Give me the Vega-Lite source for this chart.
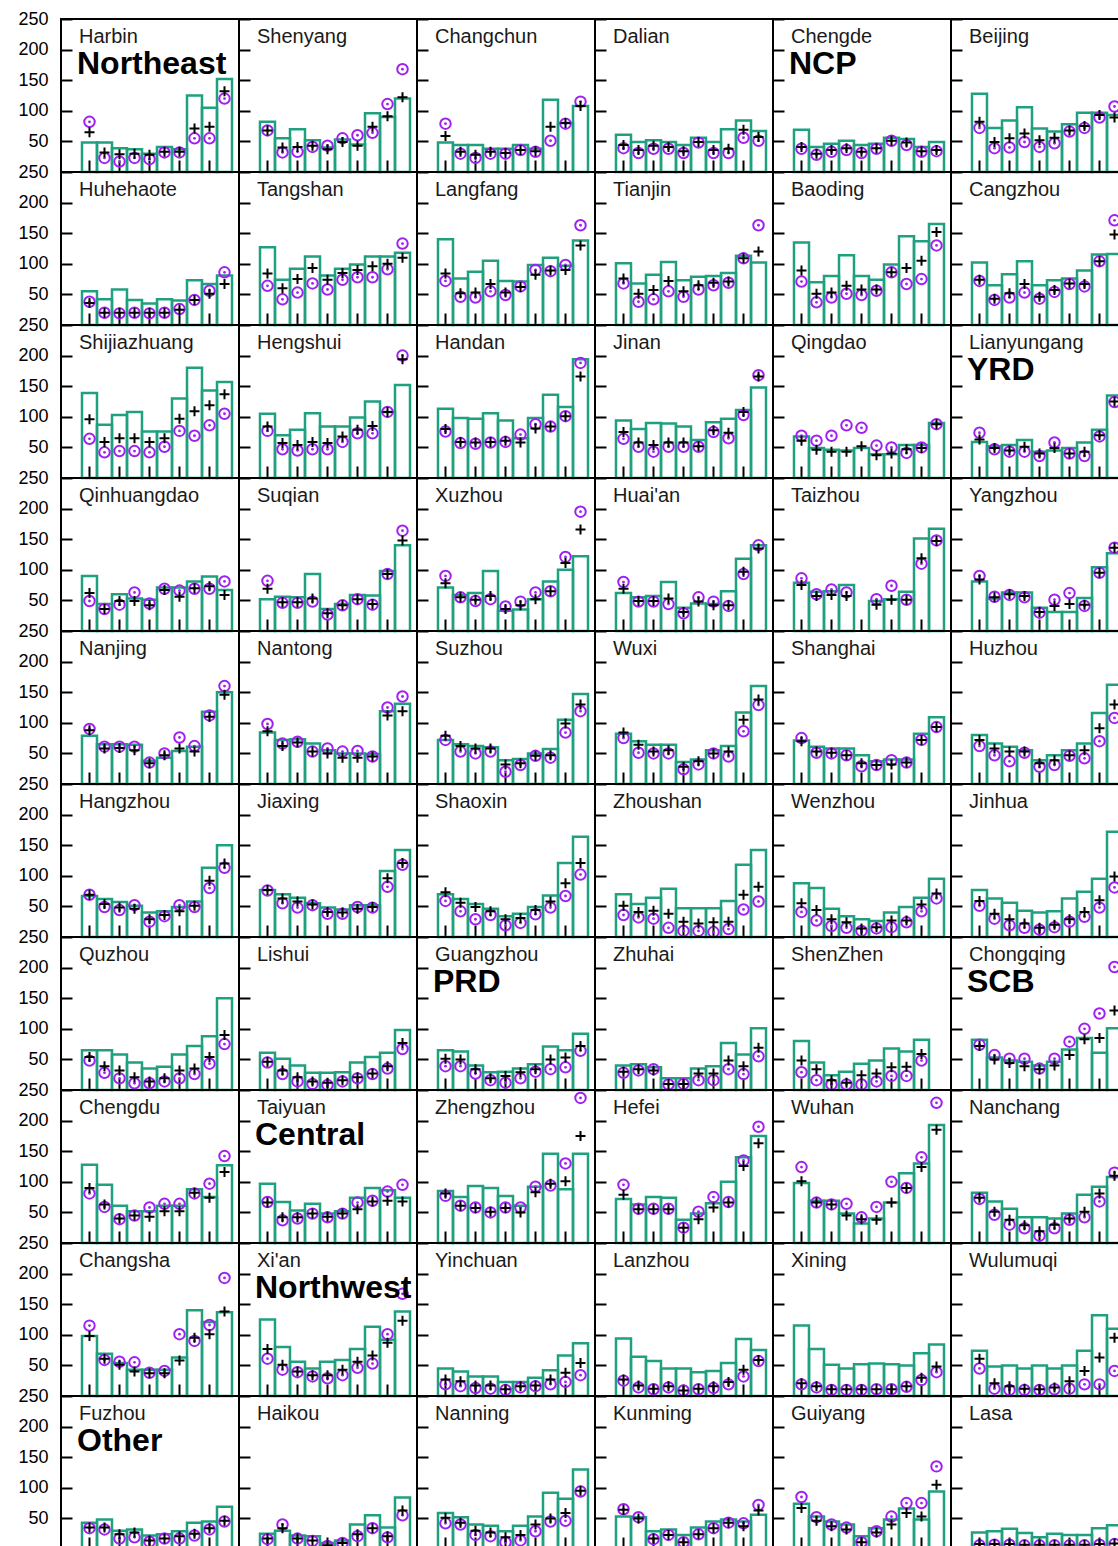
{
"$schema": "https://vega.github.io/schema/vega-lite/v6.json",
"padding": {"left": 17, "top": 10, "right": 0, "bottom": 0},
"background": "white",
"bounds": "flush",
"data": {"values": [
{"city":"Harbin","month":1,"bar":48,"plus":65,"circle":82,"region":"Northeast"},
{"city":"Harbin","month":2,"bar":48,"plus":32,"circle":23},
{"city":"Harbin","month":3,"bar":39,"plus":29,"circle":17},
{"city":"Harbin","month":4,"bar":37,"plus":30,"circle":23},
{"city":"Harbin","month":5,"bar":30,"plus":28,"circle":21},
{"city":"Harbin","month":6,"bar":41,"plus":33,"circle":32},
{"city":"Harbin","month":7,"bar":37,"plus":33,"circle":32},
{"city":"Harbin","month":8,"bar":125,"plus":71,"circle":55},
{"city":"Harbin","month":9,"bar":105,"plus":74,"circle":55},
{"city":"Harbin","month":10,"bar":152,"plus":132,"circle":120},
{"city":"Shenyang","month":1,"bar":82,"plus":68,"circle":68},
{"city":"Shenyang","month":2,"bar":55,"plus":40,"circle":32},
{"city":"Shenyang","month":3,"bar":70,"plus":41,"circle":33},
{"city":"Shenyang","month":4,"bar":52,"plus":43,"circle":41},
{"city":"Shenyang","month":5,"bar":40,"plus":37,"circle":43},
{"city":"Shenyang","month":6,"bar":53,"plus":49,"circle":55},
{"city":"Shenyang","month":7,"bar":45,"plus":43,"circle":60},
{"city":"Shenyang","month":8,"bar":96,"plus":74,"circle":64},
{"city":"Shenyang","month":9,"bar":90,"plus":91,"circle":111},
{"city":"Shenyang","month":10,"bar":120,"plus":122,"circle":168},
{"city":"Changchun","month":1,"bar":48,"plus":59,"circle":79},
{"city":"Changchun","month":2,"bar":44,"plus":33,"circle":30},
{"city":"Changchun","month":3,"bar":44,"plus":28,"circle":23},
{"city":"Changchun","month":4,"bar":38,"plus":33,"circle":30},
{"city":"Changchun","month":5,"bar":38,"plus":31,"circle":30},
{"city":"Changchun","month":6,"bar":44,"plus":36,"circle":36},
{"city":"Changchun","month":7,"bar":38,"plus":34,"circle":33},
{"city":"Changchun","month":8,"bar":118,"plus":74,"circle":51},
{"city":"Changchun","month":9,"bar":80,"plus":80,"circle":79},
{"city":"Changchun","month":10,"bar":108,"plus":108,"circle":115},
{"city":"Dalian","month":1,"bar":61,"plus":44,"circle":39},
{"city":"Dalian","month":2,"bar":49,"plus":36,"circle":31},
{"city":"Dalian","month":3,"bar":52,"plus":43,"circle":38},
{"city":"Dalian","month":4,"bar":49,"plus":41,"circle":38},
{"city":"Dalian","month":5,"bar":44,"plus":34,"circle":31},
{"city":"Dalian","month":6,"bar":56,"plus":49,"circle":48},
{"city":"Dalian","month":7,"bar":49,"plus":36,"circle":31},
{"city":"Dalian","month":8,"bar":70,"plus":38,"circle":31},
{"city":"Dalian","month":9,"bar":84,"plus":69,"circle":56},
{"city":"Dalian","month":10,"bar":67,"plus":57,"circle":51},
{"city":"Chengde","month":1,"bar":69,"plus":41,"circle":38,"region":"NCP"},
{"city":"Chengde","month":2,"bar":41,"plus":30,"circle":28},
{"city":"Chengde","month":3,"bar":46,"plus":36,"circle":33},
{"city":"Chengde","month":4,"bar":51,"plus":39,"circle":36},
{"city":"Chengde","month":5,"bar":44,"plus":33,"circle":31},
{"city":"Chengde","month":6,"bar":46,"plus":39,"circle":38},
{"city":"Chengde","month":7,"bar":56,"plus":51,"circle":51},
{"city":"Chengde","month":8,"bar":54,"plus":48,"circle":44},
{"city":"Chengde","month":9,"bar":41,"plus":34,"circle":33},
{"city":"Chengde","month":10,"bar":49,"plus":36,"circle":34},
{"city":"Beijing","month":1,"bar":128,"plus":82,"circle":72},
{"city":"Beijing","month":2,"bar":72,"plus":49,"circle":39},
{"city":"Beijing","month":3,"bar":84,"plus":55,"circle":40},
{"city":"Beijing","month":4,"bar":106,"plus":63,"circle":49},
{"city":"Beijing","month":5,"bar":71,"plus":52,"circle":41},
{"city":"Beijing","month":6,"bar":66,"plus":56,"circle":47},
{"city":"Beijing","month":7,"bar":78,"plus":68,"circle":66},
{"city":"Beijing","month":8,"bar":97,"plus":75,"circle":72},
{"city":"Beijing","month":9,"bar":97,"plus":93,"circle":89},
{"city":"Beijing","month":10,"bar":93,"plus":89,"circle":107},
{"city":"Huhehaote","month":1,"bar":55,"plus":36,"circle":38},
{"city":"Huhehaote","month":2,"bar":42,"plus":20,"circle":20},
{"city":"Huhehaote","month":3,"bar":58,"plus":20,"circle":19},
{"city":"Huhehaote","month":4,"bar":41,"plus":20,"circle":20},
{"city":"Huhehaote","month":5,"bar":35,"plus":20,"circle":19},
{"city":"Huhehaote","month":6,"bar":42,"plus":20,"circle":20},
{"city":"Huhehaote","month":7,"bar":40,"plus":25,"circle":26},
{"city":"Huhehaote","month":8,"bar":73,"plus":41,"circle":41},
{"city":"Huhehaote","month":9,"bar":67,"plus":51,"circle":56},
{"city":"Huhehaote","month":10,"bar":81,"plus":67,"circle":86},
{"city":"Tangshan","month":1,"bar":127,"plus":84,"circle":64},
{"city":"Tangshan","month":2,"bar":74,"plus":60,"circle":42},
{"city":"Tangshan","month":3,"bar":92,"plus":75,"circle":53},
{"city":"Tangshan","month":4,"bar":112,"plus":93,"circle":68},
{"city":"Tangshan","month":5,"bar":81,"plus":74,"circle":58},
{"city":"Tangshan","month":6,"bar":92,"plus":85,"circle":74},
{"city":"Tangshan","month":7,"bar":99,"plus":90,"circle":78},
{"city":"Tangshan","month":8,"bar":112,"plus":96,"circle":78},
{"city":"Tangshan","month":9,"bar":112,"plus":100,"circle":91},
{"city":"Tangshan","month":10,"bar":118,"plus":110,"circle":133},
{"city":"Langfang","month":1,"bar":140,"plus":84,"circle":72},
{"city":"Langfang","month":2,"bar":76,"plus":52,"circle":46},
{"city":"Langfang","month":3,"bar":87,"plus":53,"circle":45},
{"city":"Langfang","month":4,"bar":105,"plus":67,"circle":55},
{"city":"Langfang","month":5,"bar":72,"plus":53,"circle":49},
{"city":"Langfang","month":6,"bar":71,"plus":62,"circle":63},
{"city":"Langfang","month":7,"bar":98,"plus":82,"circle":90},
{"city":"Langfang","month":8,"bar":110,"plus":89,"circle":88},
{"city":"Langfang","month":9,"bar":97,"plus":90,"circle":98},
{"city":"Langfang","month":10,"bar":138,"plus":130,"circle":163},
{"city":"Tianjin","month":1,"bar":101,"plus":76,"circle":68},
{"city":"Tianjin","month":2,"bar":68,"plus":51,"circle":38},
{"city":"Tianjin","month":3,"bar":82,"plus":57,"circle":42},
{"city":"Tianjin","month":4,"bar":103,"plus":72,"circle":55},
{"city":"Tianjin","month":5,"bar":73,"plus":55,"circle":46},
{"city":"Tianjin","month":6,"bar":79,"plus":65,"circle":58},
{"city":"Tianjin","month":7,"bar":80,"plus":69,"circle":65},
{"city":"Tianjin","month":8,"bar":85,"plus":71,"circle":69},
{"city":"Tianjin","month":9,"bar":113,"plus":109,"circle":109},
{"city":"Tianjin","month":10,"bar":102,"plus":120,"circle":163},
{"city":"Baoding","month":1,"bar":135,"plus":89,"circle":71},
{"city":"Baoding","month":2,"bar":70,"plus":51,"circle":37},
{"city":"Baoding","month":3,"bar":80,"plus":53,"circle":45},
{"city":"Baoding","month":4,"bar":114,"plus":64,"circle":51},
{"city":"Baoding","month":5,"bar":80,"plus":58,"circle":49},
{"city":"Baoding","month":6,"bar":74,"plus":58,"circle":56},
{"city":"Baoding","month":7,"bar":99,"plus":86,"circle":86},
{"city":"Baoding","month":8,"bar":145,"plus":93,"circle":67},
{"city":"Baoding","month":9,"bar":137,"plus":105,"circle":75},
{"city":"Baoding","month":10,"bar":165,"plus":152,"circle":130},
{"city":"Cangzhou","month":1,"bar":102,"plus":74,"circle":72},
{"city":"Cangzhou","month":2,"bar":65,"plus":43,"circle":41},
{"city":"Cangzhou","month":3,"bar":83,"plus":52,"circle":45},
{"city":"Cangzhou","month":4,"bar":104,"plus":67,"circle":53},
{"city":"Cangzhou","month":5,"bar":65,"plus":46,"circle":43},
{"city":"Cangzhou","month":6,"bar":73,"plus":57,"circle":54},
{"city":"Cangzhou","month":7,"bar":76,"plus":68,"circle":67},
{"city":"Cangzhou","month":8,"bar":89,"plus":67,"circle":63},
{"city":"Cangzhou","month":9,"bar":115,"plus":104,"circle":104},
{"city":"Cangzhou","month":10,"bar":116,"plus":148,"circle":171},
{"city":"Shijiazhuang","month":1,"bar":139,"plus":96,"circle":64},
{"city":"Shijiazhuang","month":2,"bar":87,"plus":59,"circle":42},
{"city":"Shijiazhuang","month":3,"bar":103,"plus":65,"circle":44},
{"city":"Shijiazhuang","month":4,"bar":108,"plus":65,"circle":44},
{"city":"Shijiazhuang","month":5,"bar":76,"plus":59,"circle":42},
{"city":"Shijiazhuang","month":6,"bar":76,"plus":65,"circle":51},
{"city":"Shijiazhuang","month":7,"bar":130,"plus":97,"circle":77},
{"city":"Shijiazhuang","month":8,"bar":180,"plus":109,"circle":69},
{"city":"Shijiazhuang","month":9,"bar":143,"plus":119,"circle":86},
{"city":"Shijiazhuang","month":10,"bar":157,"plus":137,"circle":105},
{"city":"Hengshui","month":1,"bar":105,"plus":84,"circle":77},
{"city":"Hengshui","month":2,"bar":70,"plus":57,"circle":47},
{"city":"Hengshui","month":3,"bar":79,"plus":54,"circle":45},
{"city":"Hengshui","month":4,"bar":106,"plus":59,"circle":47},
{"city":"Hengshui","month":5,"bar":84,"plus":57,"circle":47},
{"city":"Hengshui","month":6,"bar":84,"plus":68,"circle":59},
{"city":"Hengshui","month":7,"bar":99,"plus":79,"circle":73},
{"city":"Hengshui","month":8,"bar":125,"plus":85,"circle":73},
{"city":"Hengshui","month":9,"bar":108,"plus":108,"circle":108},
{"city":"Hengshui","month":10,"bar":152,"plus":194,"circle":200},
{"city":"Handan","month":1,"bar":113,"plus":80,"circle":76},
{"city":"Handan","month":2,"bar":98,"plus":59,"circle":57},
{"city":"Handan","month":3,"bar":97,"plus":58,"circle":56},
{"city":"Handan","month":4,"bar":106,"plus":59,"circle":58},
{"city":"Handan","month":5,"bar":94,"plus":61,"circle":59},
{"city":"Handan","month":6,"bar":65,"plus":58,"circle":71},
{"city":"Handan","month":7,"bar":98,"plus":81,"circle":88},
{"city":"Handan","month":8,"bar":136,"plus":84,"circle":84},
{"city":"Handan","month":9,"bar":116,"plus":101,"circle":101},
{"city":"Handan","month":10,"bar":194,"plus":166,"circle":188},
{"city":"Jinan","month":1,"bar":94,"plus":75,"circle":64},
{"city":"Jinan","month":2,"bar":80,"plus":58,"circle":51},
{"city":"Jinan","month":3,"bar":90,"plus":54,"circle":43},
{"city":"Jinan","month":4,"bar":89,"plus":58,"circle":51},
{"city":"Jinan","month":5,"bar":84,"plus":58,"circle":51},
{"city":"Jinan","month":6,"bar":62,"plus":52,"circle":51},
{"city":"Jinan","month":7,"bar":91,"plus":78,"circle":75},
{"city":"Jinan","month":8,"bar":97,"plus":74,"circle":65},
{"city":"Jinan","month":9,"bar":111,"plus":108,"circle":103},
{"city":"Jinan","month":10,"bar":148,"plus":166,"circle":168},
{"city":"Qingdao","month":1,"bar":68,"plus":61,"circle":69},
{"city":"Qingdao","month":2,"bar":49,"plus":46,"circle":61},
{"city":"Qingdao","month":3,"bar":46,"plus":43,"circle":69},
{"city":"Qingdao","month":4,"bar":45,"plus":43,"circle":86},
{"city":"Qingdao","month":5,"bar":49,"plus":52,"circle":82},
{"city":"Qingdao","month":6,"bar":39,"plus":37,"circle":53},
{"city":"Qingdao","month":7,"bar":39,"plus":40,"circle":50},
{"city":"Qingdao","month":8,"bar":54,"plus":47,"circle":41},
{"city":"Qingdao","month":9,"bar":54,"plus":49,"circle":50},
{"city":"Qingdao","month":10,"bar":90,"plus":88,"circle":88},
{"city":"Lianyungang","month":1,"bar":59,"plus":63,"circle":74,"region":"YRD"},
{"city":"Lianyungang","month":2,"bar":52,"plus":49,"circle":47},
{"city":"Lianyungang","month":3,"bar":54,"plus":45,"circle":43},
{"city":"Lianyungang","month":4,"bar":62,"plus":51,"circle":43},
{"city":"Lianyungang","month":5,"bar":43,"plus":40,"circle":36},
{"city":"Lianyungang","month":6,"bar":45,"plus":49,"circle":58},
{"city":"Lianyungang","month":7,"bar":49,"plus":40,"circle":40},
{"city":"Lianyungang","month":8,"bar":58,"plus":43,"circle":36},
{"city":"Lianyungang","month":9,"bar":79,"plus":70,"circle":68},
{"city":"Lianyungang","month":10,"bar":135,"plus":125,"circle":124},
{"city":"Qinhuangdao","month":1,"bar":90,"plus":62,"circle":49},
{"city":"Qinhuangdao","month":2,"bar":44,"plus":36,"circle":36},
{"city":"Qinhuangdao","month":3,"bar":60,"plus":49,"circle":43},
{"city":"Qinhuangdao","month":4,"bar":53,"plus":49,"circle":63},
{"city":"Qinhuangdao","month":5,"bar":51,"plus":42,"circle":45},
{"city":"Qinhuangdao","month":6,"bar":71,"plus":67,"circle":69},
{"city":"Qinhuangdao","month":7,"bar":71,"plus":56,"circle":66},
{"city":"Qinhuangdao","month":8,"bar":81,"plus":70,"circle":69},
{"city":"Qinhuangdao","month":9,"bar":89,"plus":73,"circle":69},
{"city":"Qinhuangdao","month":10,"bar":67,"plus":59,"circle":81},
{"city":"Suqian","month":1,"bar":52,"plus":69,"circle":82},
{"city":"Suqian","month":2,"bar":56,"plus":47,"circle":46},
{"city":"Suqian","month":3,"bar":55,"plus":47,"circle":46},
{"city":"Suqian","month":4,"bar":93,"plus":53,"circle":48},
{"city":"Suqian","month":5,"bar":36,"plus":29,"circle":27},
{"city":"Suqian","month":6,"bar":44,"plus":42,"circle":42},
{"city":"Suqian","month":7,"bar":59,"plus":52,"circle":52},
{"city":"Suqian","month":8,"bar":58,"plus":44,"circle":43},
{"city":"Suqian","month":9,"bar":98,"plus":93,"circle":93},
{"city":"Suqian","month":10,"bar":140,"plus":148,"circle":164},
{"city":"Xuzhou","month":1,"bar":71,"plus":78,"circle":90},
{"city":"Xuzhou","month":2,"bar":59,"plus":55,"circle":55},
{"city":"Xuzhou","month":3,"bar":62,"plus":51,"circle":49},
{"city":"Xuzhou","month":4,"bar":98,"plus":57,"circle":52},
{"city":"Xuzhou","month":5,"bar":33,"plus":36,"circle":40},
{"city":"Xuzhou","month":6,"bar":35,"plus":42,"circle":48},
{"city":"Xuzhou","month":7,"bar":52,"plus":52,"circle":63},
{"city":"Xuzhou","month":8,"bar":81,"plus":65,"circle":65},
{"city":"Xuzhou","month":9,"bar":100,"plus":111,"circle":121},
{"city":"Xuzhou","month":10,"bar":122,"plus":166,"circle":195},
{"city":"Huai'an","month":1,"bar":62,"plus":69,"circle":80},
{"city":"Huai'an","month":2,"bar":55,"plus":49,"circle":48},
{"city":"Huai'an","month":3,"bar":57,"plus":49,"circle":48},
{"city":"Huai'an","month":4,"bar":80,"plus":53,"circle":44},
{"city":"Huai'an","month":5,"bar":38,"plus":31,"circle":29},
{"city":"Huai'an","month":6,"bar":45,"plus":48,"circle":55},
{"city":"Huai'an","month":7,"bar":44,"plus":42,"circle":48},
{"city":"Huai'an","month":8,"bar":65,"plus":42,"circle":41},
{"city":"Huai'an","month":9,"bar":118,"plus":97,"circle":93},
{"city":"Huai'an","month":10,"bar":140,"plus":135,"circle":140},
{"city":"Taizhou","month":1,"bar":79,"plus":75,"circle":86},
{"city":"Taizhou","month":2,"bar":64,"plus":57,"circle":60},
{"city":"Taizhou","month":3,"bar":65,"plus":59,"circle":68},
{"city":"Taizhou","month":4,"bar":75,"plus":57,"circle":63},
{"city":"Taizhou","month":6,"bar":49,"plus":43,"circle":52},
{"city":"Taizhou","month":7,"bar":52,"plus":51,"circle":74},
{"city":"Taizhou","month":8,"bar":64,"plus":51,"circle":51},
{"city":"Taizhou","month":9,"bar":151,"plus":119,"circle":110},
{"city":"Taizhou","month":10,"bar":167,"plus":147,"circle":148},
{"city":"Yangzhou","month":1,"bar":81,"plus":84,"circle":90},
{"city":"Yangzhou","month":2,"bar":53,"plus":55,"circle":56},
{"city":"Yangzhou","month":3,"bar":63,"plus":60,"circle":59},
{"city":"Yangzhou","month":4,"bar":63,"plus":57,"circle":55},
{"city":"Yangzhou","month":5,"bar":38,"plus":31,"circle":30},
{"city":"Yangzhou","month":6,"bar":31,"plus":41,"circle":51},
{"city":"Yangzhou","month":7,"bar":31,"plus":44,"circle":62},
{"city":"Yangzhou","month":8,"bar":54,"plus":43,"circle":41},
{"city":"Yangzhou","month":9,"bar":104,"plus":95,"circle":95},
{"city":"Yangzhou","month":10,"bar":127,"plus":136,"circle":136},
{"city":"Nanjing","month":1,"bar":79,"plus":88,"circle":90},
{"city":"Nanjing","month":2,"bar":65,"plus":58,"circle":61},
{"city":"Nanjing","month":3,"bar":65,"plus":59,"circle":61},
{"city":"Nanjing","month":4,"bar":64,"plus":55,"circle":61},
{"city":"Nanjing","month":5,"bar":38,"plus":34,"circle":35},
{"city":"Nanjing","month":6,"bar":43,"plus":47,"circle":50},
{"city":"Nanjing","month":7,"bar":54,"plus":58,"circle":76},
{"city":"Nanjing","month":8,"bar":61,"plus":53,"circle":62},
{"city":"Nanjing","month":9,"bar":118,"plus":110,"circle":112},
{"city":"Nanjing","month":10,"bar":150,"plus":146,"circle":160},
{"city":"Nantong","month":1,"bar":84,"plus":86,"circle":98},
{"city":"Nantong","month":2,"bar":72,"plus":62,"circle":66},
{"city":"Nantong","month":3,"bar":73,"plus":68,"circle":69},
{"city":"Nantong","month":4,"bar":66,"plus":53,"circle":53},
{"city":"Nantong","month":5,"bar":55,"plus":50,"circle":58},
{"city":"Nantong","month":6,"bar":50,"plus":43,"circle":53},
{"city":"Nantong","month":7,"bar":50,"plus":43,"circle":54},
{"city":"Nantong","month":8,"bar":49,"plus":45,"circle":45},
{"city":"Nantong","month":9,"bar":119,"plus":112,"circle":125},
{"city":"Nantong","month":10,"bar":131,"plus":119,"circle":143},
{"city":"Suzhou","month":1,"bar":72,"plus":79,"circle":72},
{"city":"Suzhou","month":2,"bar":65,"plus":62,"circle":53},
{"city":"Suzhou","month":3,"bar":62,"plus":58,"circle":50},
{"city":"Suzhou","month":4,"bar":60,"plus":58,"circle":53},
{"city":"Suzhou","month":5,"bar":39,"plus":32,"circle":20},
{"city":"Suzhou","month":6,"bar":41,"plus":34,"circle":31},
{"city":"Suzhou","month":7,"bar":50,"plus":46,"circle":46},
{"city":"Suzhou","month":8,"bar":57,"plus":47,"circle":43},
{"city":"Suzhou","month":9,"bar":105,"plus":99,"circle":84},
{"city":"Suzhou","month":10,"bar":147,"plus":130,"circle":119},
{"city":"Wuxi","month":1,"bar":82,"plus":84,"circle":75},
{"city":"Wuxi","month":2,"bar":70,"plus":64,"circle":51},
{"city":"Wuxi","month":3,"bar":64,"plus":53,"circle":50},
{"city":"Wuxi","month":4,"bar":64,"plus":55,"circle":50},
{"city":"Wuxi","month":5,"bar":36,"plus":28,"circle":24},
{"city":"Wuxi","month":6,"bar":40,"plus":37,"circle":32},
{"city":"Wuxi","month":7,"bar":55,"plus":50,"circle":50},
{"city":"Wuxi","month":8,"bar":62,"plus":53,"circle":45},
{"city":"Wuxi","month":9,"bar":117,"plus":105,"circle":86},
{"city":"Wuxi","month":10,"bar":160,"plus":138,"circle":129},
{"city":"Shanghai","month":1,"bar":71,"plus":70,"circle":75},
{"city":"Shanghai","month":2,"bar":61,"plus":53,"circle":51},
{"city":"Shanghai","month":3,"bar":58,"plus":51,"circle":50},
{"city":"Shanghai","month":4,"bar":58,"plus":47,"circle":47},
{"city":"Shanghai","month":5,"bar":47,"plus":34,"circle":29},
{"city":"Shanghai","month":6,"bar":37,"plus":31,"circle":31},
{"city":"Shanghai","month":7,"bar":40,"plus":32,"circle":39},
{"city":"Shanghai","month":8,"bar":40,"plus":35,"circle":35},
{"city":"Shanghai","month":9,"bar":82,"plus":72,"circle":72},
{"city":"Shanghai","month":10,"bar":109,"plus":93,"circle":93},
{"city":"Huzhou","month":1,"bar":80,"plus":72,"circle":62},
{"city":"Huzhou","month":2,"bar":66,"plus":58,"circle":47},
{"city":"Huzhou","month":3,"bar":61,"plus":53,"circle":37},
{"city":"Huzhou","month":4,"bar":55,"plus":53,"circle":51},
{"city":"Huzhou","month":5,"bar":39,"plus":34,"circle":28},
{"city":"Huzhou","month":6,"bar":47,"plus":39,"circle":31},
{"city":"Huzhou","month":7,"bar":55,"plus":47,"circle":46},
{"city":"Huzhou","month":8,"bar":66,"plus":55,"circle":42},
{"city":"Huzhou","month":9,"bar":116,"plus":91,"circle":70},
{"city":"Huzhou","month":10,"bar":162,"plus":130,"circle":108},
{"city":"Hangzhou","month":1,"bar":67,"plus":69,"circle":69},
{"city":"Hangzhou","month":2,"bar":62,"plus":54,"circle":49},
{"city":"Hangzhou","month":3,"bar":57,"plus":48,"circle":44},
{"city":"Hangzhou","month":4,"bar":51,"plus":46,"circle":52},
{"city":"Hangzhou","month":5,"bar":40,"plus":29,"circle":25},
{"city":"Hangzhou","month":6,"bar":42,"plus":36,"circle":34},
{"city":"Hangzhou","month":7,"bar":49,"plus":42,"circle":52},
{"city":"Hangzhou","month":8,"bar":58,"plus":51,"circle":49},
{"city":"Hangzhou","month":9,"bar":113,"plus":92,"circle":80},
{"city":"Hangzhou","month":10,"bar":150,"plus":120,"circle":113},
{"city":"Jiaxing","month":1,"bar":77,"plus":77,"circle":76},
{"city":"Jiaxing","month":2,"bar":70,"plus":63,"circle":55},
{"city":"Jiaxing","month":3,"bar":64,"plus":58,"circle":48},
{"city":"Jiaxing","month":4,"bar":55,"plus":53,"circle":52},
{"city":"Jiaxing","month":5,"bar":48,"plus":41,"circle":38},
{"city":"Jiaxing","month":6,"bar":45,"plus":40,"circle":38},
{"city":"Jiaxing","month":7,"bar":52,"plus":46,"circle":49},
{"city":"Jiaxing","month":8,"bar":52,"plus":49,"circle":48},
{"city":"Jiaxing","month":9,"bar":108,"plus":96,"circle":82},
{"city":"Jiaxing","month":10,"bar":142,"plus":121,"circle":118},
{"city":"Shaoxin","month":1,"bar":70,"plus":73,"circle":59},
{"city":"Shaoxin","month":2,"bar":62,"plus":56,"circle":42},
{"city":"Shaoxin","month":3,"bar":54,"plus":49,"circle":29},
{"city":"Shaoxin","month":4,"bar":46,"plus":42,"circle":36},
{"city":"Shaoxin","month":5,"bar":34,"plus":29,"circle":19},
{"city":"Shaoxin","month":6,"bar":38,"plus":31,"circle":23},
{"city":"Shaoxin","month":7,"bar":49,"plus":44,"circle":37},
{"city":"Shaoxin","month":8,"bar":68,"plus":58,"circle":48},
{"city":"Shaoxin","month":9,"bar":121,"plus":88,"circle":67},
{"city":"Shaoxin","month":10,"bar":164,"plus":121,"circle":102},
{"city":"Zhoushan","month":1,"bar":70,"plus":51,"circle":36},
{"city":"Zhoushan","month":2,"bar":54,"plus":41,"circle":32},
{"city":"Zhoushan","month":3,"bar":64,"plus":43,"circle":30},
{"city":"Zhoushan","month":4,"bar":79,"plus":38,"circle":15},
{"city":"Zhoushan","month":5,"bar":47,"plus":25,"circle":10},
{"city":"Zhoushan","month":6,"bar":47,"plus":22,"circle":10},
{"city":"Zhoushan","month":7,"bar":47,"plus":24,"circle":8},
{"city":"Zhoushan","month":8,"bar":59,"plus":25,"circle":13},
{"city":"Zhoushan","month":9,"bar":118,"plus":69,"circle":45},
{"city":"Zhoushan","month":10,"bar":142,"plus":82,"circle":58},
{"city":"Wenzhou","month":1,"bar":88,"plus":55,"circle":41},
{"city":"Wenzhou","month":2,"bar":80,"plus":44,"circle":27},
{"city":"Wenzhou","month":3,"bar":46,"plus":29,"circle":18},
{"city":"Wenzhou","month":4,"bar":34,"plus":24,"circle":15},
{"city":"Wenzhou","month":5,"bar":29,"plus":14,"circle":10},
{"city":"Wenzhou","month":6,"bar":26,"plus":16,"circle":14},
{"city":"Wenzhou","month":7,"bar":40,"plus":27,"circle":16},
{"city":"Wenzhou","month":8,"bar":49,"plus":27,"circle":24},
{"city":"Wenzhou","month":9,"bar":64,"plus":53,"circle":42},
{"city":"Wenzhou","month":10,"bar":95,"plus":71,"circle":63},
{"city":"Jinhua","month":1,"bar":77,"plus":59,"circle":51},
{"city":"Jinhua","month":2,"bar":63,"plus":38,"circle":30},
{"city":"Jinhua","month":3,"bar":56,"plus":29,"circle":19},
{"city":"Jinhua","month":4,"bar":43,"plus":22,"circle":15},
{"city":"Jinhua","month":5,"bar":40,"plus":15,"circle":12},
{"city":"Jinhua","month":6,"bar":42,"plus":20,"circle":16},
{"city":"Jinhua","month":7,"bar":63,"plus":29,"circle":25},
{"city":"Jinhua","month":8,"bar":74,"plus":41,"circle":33},
{"city":"Jinhua","month":9,"bar":95,"plus":60,"circle":48},
{"city":"Jinhua","month":10,"bar":172,"plus":99,"circle":81},
{"city":"Quzhou","month":1,"bar":65,"plus":54,"circle":48},
{"city":"Quzhou","month":2,"bar":65,"plus":39,"circle":28},
{"city":"Quzhou","month":3,"bar":58,"plus":32,"circle":19},
{"city":"Quzhou","month":4,"bar":45,"plus":21,"circle":11},
{"city":"Quzhou","month":5,"bar":35,"plus":14,"circle":11},
{"city":"Quzhou","month":6,"bar":38,"plus":19,"circle":14},
{"city":"Quzhou","month":7,"bar":58,"plus":32,"circle":19},
{"city":"Quzhou","month":8,"bar":72,"plus":35,"circle":26},
{"city":"Quzhou","month":9,"bar":88,"plus":54,"circle":43},
{"city":"Quzhou","month":10,"bar":150,"plus":90,"circle":75},
{"city":"Lishui","month":1,"bar":61,"plus":46,"circle":45},
{"city":"Lishui","month":2,"bar":51,"plus":32,"circle":26},
{"city":"Lishui","month":3,"bar":40,"plus":21,"circle":14},
{"city":"Lishui","month":4,"bar":28,"plus":14,"circle":10},
{"city":"Lishui","month":5,"bar":28,"plus":12,"circle":8},
{"city":"Lishui","month":6,"bar":29,"plus":16,"circle":14},
{"city":"Lishui","month":7,"bar":45,"plus":21,"circle":19},
{"city":"Lishui","month":8,"bar":54,"plus":27,"circle":26},
{"city":"Lishui","month":9,"bar":61,"plus":39,"circle":35},
{"city":"Lishui","month":10,"bar":98,"plus":77,"circle":67},
{"city":"Guangzhou","month":1,"bar":65,"plus":51,"circle":39,"region":"PRD"},
{"city":"Guangzhou","month":2,"bar":63,"plus":50,"circle":39},
{"city":"Guangzhou","month":3,"bar":40,"plus":34,"circle":27},
{"city":"Guangzhou","month":4,"bar":29,"plus":19,"circle":16},
{"city":"Guangzhou","month":5,"bar":30,"plus":23,"circle":12},
{"city":"Guangzhou","month":6,"bar":35,"plus":29,"circle":19},
{"city":"Guangzhou","month":7,"bar":42,"plus":34,"circle":30},
{"city":"Guangzhou","month":8,"bar":71,"plus":50,"circle":34},
{"city":"Guangzhou","month":9,"bar":65,"plus":53,"circle":37},
{"city":"Guangzhou","month":10,"bar":92,"plus":72,"circle":64},
{"city":"Zhuhai","month":1,"bar":40,"plus":30,"circle":28},
{"city":"Zhuhai","month":2,"bar":42,"plus":34,"circle":32},
{"city":"Zhuhai","month":3,"bar":37,"plus":32,"circle":34},
{"city":"Zhuhai","month":4,"bar":19,"plus":10,"circle":9},
{"city":"Zhuhai","month":5,"bar":19,"plus":10,"circle":10},
{"city":"Zhuhai","month":6,"bar":35,"plus":27,"circle":16},
{"city":"Zhuhai","month":7,"bar":39,"plus":27,"circle":16},
{"city":"Zhuhai","month":8,"bar":77,"plus":48,"circle":34},
{"city":"Zhuhai","month":9,"bar":58,"plus":39,"circle":26},
{"city":"Zhuhai","month":10,"bar":101,"plus":69,"circle":55},
{"city":"ShenZhen","month":1,"bar":80,"plus":48,"circle":29},
{"city":"ShenZhen","month":2,"bar":45,"plus":34,"circle":16},
{"city":"ShenZhen","month":3,"bar":24,"plus":16,"circle":9},
{"city":"ShenZhen","month":4,"bar":30,"plus":12,"circle":9},
{"city":"ShenZhen","month":5,"bar":43,"plus":24,"circle":9},
{"city":"ShenZhen","month":6,"bar":48,"plus":27,"circle":14},
{"city":"ShenZhen","month":7,"bar":68,"plus":37,"circle":23},
{"city":"ShenZhen","month":8,"bar":63,"plus":38,"circle":23},
{"city":"ShenZhen","month":9,"bar":82,"plus":59,"circle":48},
{"city":"Chongqing","month":1,"bar":82,"plus":72,"circle":74,"region":"SCB"},
{"city":"Chongqing","month":2,"bar":53,"plus":50,"circle":57},
{"city":"Chongqing","month":3,"bar":48,"plus":44,"circle":51},
{"city":"Chongqing","month":4,"bar":46,"plus":39,"circle":51},
{"city":"Chongqing","month":5,"bar":40,"plus":34,"circle":35},
{"city":"Chongqing","month":6,"bar":46,"plus":40,"circle":51},
{"city":"Chongqing","month":7,"bar":66,"plus":57,"circle":79},
{"city":"Chongqing","month":8,"bar":85,"plus":83,"circle":100},
{"city":"Chongqing","month":9,"bar":61,"plus":85,"circle":125},
{"city":"Chongqing","month":10,"bar":101,"plus":130,"circle":201},
{"city":"Chengdu","month":1,"bar":128,"plus":90,"circle":81},
{"city":"Chengdu","month":2,"bar":95,"plus":63,"circle":59},
{"city":"Chengdu","month":3,"bar":61,"plus":40,"circle":39},
{"city":"Chengdu","month":4,"bar":52,"plus":45,"circle":45},
{"city":"Chengdu","month":5,"bar":52,"plus":43,"circle":58},
{"city":"Chengdu","month":6,"bar":61,"plus":52,"circle":64},
{"city":"Chengdu","month":7,"bar":61,"plus":52,"circle":64},
{"city":"Chengdu","month":8,"bar":88,"plus":82,"circle":81},
{"city":"Chengdu","month":9,"bar":75,"plus":74,"circle":97},
{"city":"Chengdu","month":10,"bar":127,"plus":116,"circle":142},
{"city":"Taiyuan","month":1,"bar":97,"plus":66,"circle":67,"region":"Central"},
{"city":"Taiyuan","month":2,"bar":67,"plus":42,"circle":37},
{"city":"Taiyuan","month":3,"bar":53,"plus":42,"circle":40},
{"city":"Taiyuan","month":4,"bar":64,"plus":48,"circle":48},
{"city":"Taiyuan","month":5,"bar":48,"plus":43,"circle":42},
{"city":"Taiyuan","month":6,"bar":52,"plus":48,"circle":48},
{"city":"Taiyuan","month":7,"bar":74,"plus":55,"circle":66},
{"city":"Taiyuan","month":8,"bar":90,"plus":68,"circle":69},
{"city":"Taiyuan","month":9,"bar":86,"plus":69,"circle":84},
{"city":"Taiyuan","month":10,"bar":74,"plus":68,"circle":95},
{"city":"Zhengzhou","month":1,"bar":85,"plus":81,"circle":77},
{"city":"Zhengzhou","month":2,"bar":75,"plus":61,"circle":61},
{"city":"Zhengzhou","month":3,"bar":93,"plus":57,"circle":58},
{"city":"Zhengzhou","month":4,"bar":90,"plus":51,"circle":50},
{"city":"Zhengzhou","month":5,"bar":77,"plus":57,"circle":58},
{"city":"Zhengzhou","month":6,"bar":61,"plus":50,"circle":58},
{"city":"Zhengzhou","month":7,"bar":92,"plus":83,"circle":92},
{"city":"Zhengzhou","month":8,"bar":146,"plus":97,"circle":94},
{"city":"Zhengzhou","month":9,"bar":88,"plus":101,"circle":130},
{"city":"Zhengzhou","month":10,"bar":146,"plus":175,"circle":237},
{"city":"Hefei","month":1,"bar":72,"plus":79,"circle":95},
{"city":"Hefei","month":2,"bar":63,"plus":55,"circle":56},
{"city":"Hefei","month":3,"bar":75,"plus":55,"circle":56},
{"city":"Hefei","month":4,"bar":74,"plus":55,"circle":56},
{"city":"Hefei","month":5,"bar":38,"plus":25,"circle":25},
{"city":"Hefei","month":6,"bar":48,"plus":39,"circle":51},
{"city":"Hefei","month":7,"bar":65,"plus":58,"circle":75},
{"city":"Hefei","month":8,"bar":100,"plus":66,"circle":67},
{"city":"Hefei","month":9,"bar":140,"plus":126,"circle":135},
{"city":"Hefei","month":10,"bar":175,"plus":163,"circle":190},
{"city":"Wuhan","month":1,"bar":98,"plus":101,"circle":124},
{"city":"Wuhan","month":2,"bar":69,"plus":66,"circle":66},
{"city":"Wuhan","month":3,"bar":69,"plus":63,"circle":63},
{"city":"Wuhan","month":4,"bar":48,"plus":45,"circle":64},
{"city":"Wuhan","month":5,"bar":32,"plus":39,"circle":42},
{"city":"Wuhan","month":6,"bar":40,"plus":38,"circle":59},
{"city":"Wuhan","month":7,"bar":66,"plus":66,"circle":100},
{"city":"Wuhan","month":8,"bar":114,"plus":90,"circle":90},
{"city":"Wuhan","month":9,"bar":130,"plus":124,"circle":140},
{"city":"Wuhan","month":10,"bar":193,"plus":185,"circle":229},
{"city":"Nanchang","month":1,"bar":82,"plus":74,"circle":72},
{"city":"Nanchang","month":2,"bar":68,"plus":51,"circle":46},
{"city":"Nanchang","month":3,"bar":56,"plus":38,"circle":30},
{"city":"Nanchang","month":4,"bar":42,"plus":29,"circle":24},
{"city":"Nanchang","month":5,"bar":42,"plus":19,"circle":12},
{"city":"Nanchang","month":6,"bar":40,"plus":30,"circle":24},
{"city":"Nanchang","month":7,"bar":48,"plus":40,"circle":38},
{"city":"Nanchang","month":8,"bar":79,"plus":51,"circle":42},
{"city":"Nanchang","month":9,"bar":92,"plus":81,"circle":68},
{"city":"Nanchang","month":10,"bar":108,"plus":110,"circle":115},
{"city":"Changsha","month":1,"bar":98,"plus":98,"circle":115},
{"city":"Changsha","month":2,"bar":69,"plus":61,"circle":59},
{"city":"Changsha","month":3,"bar":54,"plus":51,"circle":56},
{"city":"Changsha","month":4,"bar":43,"plus":40,"circle":55},
{"city":"Changsha","month":5,"bar":43,"plus":37,"circle":38},
{"city":"Changsha","month":6,"bar":43,"plus":37,"circle":41},
{"city":"Changsha","month":7,"bar":63,"plus":58,"circle":101},
{"city":"Changsha","month":8,"bar":140,"plus":95,"circle":90},
{"city":"Changsha","month":9,"bar":121,"plus":101,"circle":116},
{"city":"Changsha","month":10,"bar":137,"plus":138,"circle":193},
{"city":"Xi'an","month":1,"bar":125,"plus":77,"circle":61,"region":"Northwest"},
{"city":"Xi'an","month":2,"bar":80,"plus":51,"circle":43},
{"city":"Xi'an","month":3,"bar":56,"plus":40,"circle":39},
{"city":"Xi'an","month":4,"bar":45,"plus":34,"circle":32},
{"city":"Xi'an","month":5,"bar":56,"plus":34,"circle":29},
{"city":"Xi'an","month":6,"bar":59,"plus":43,"circle":34},
{"city":"Xi'an","month":7,"bar":77,"plus":56,"circle":46},
{"city":"Xi'an","month":8,"bar":113,"plus":66,"circle":53},
{"city":"Xi'an","month":9,"bar":92,"plus":87,"circle":101},
{"city":"Xi'an","month":10,"bar":138,"plus":123,"circle":167},
{"city":"Yinchuan","month":1,"bar":45,"plus":27,"circle":19},
{"city":"Yinchuan","month":2,"bar":40,"plus":24,"circle":16},
{"city":"Yinchuan","month":3,"bar":32,"plus":17,"circle":13},
{"city":"Yinchuan","month":4,"bar":32,"plus":17,"circle":12},
{"city":"Yinchuan","month":5,"bar":23,"plus":11,"circle":10},
{"city":"Yinchuan","month":6,"bar":23,"plus":16,"circle":14},
{"city":"Yinchuan","month":7,"bar":30,"plus":17,"circle":16},
{"city":"Yinchuan","month":8,"bar":42,"plus":27,"circle":19},
{"city":"Yinchuan","month":9,"bar":66,"plus":38,"circle":23},
{"city":"Yinchuan","month":10,"bar":86,"plus":54,"circle":34},
{"city":"Lanzhou","month":1,"bar":94,"plus":27,"circle":25},
{"city":"Lanzhou","month":2,"bar":64,"plus":17,"circle":14},
{"city":"Lanzhou","month":3,"bar":57,"plus":12,"circle":11},
{"city":"Lanzhou","month":4,"bar":45,"plus":16,"circle":14},
{"city":"Lanzhou","month":5,"bar":45,"plus":9,"circle":9},
{"city":"Lanzhou","month":6,"bar":39,"plus":12,"circle":11},
{"city":"Lanzhou","month":7,"bar":41,"plus":16,"circle":13},
{"city":"Lanzhou","month":8,"bar":54,"plus":23,"circle":19},
{"city":"Lanzhou","month":9,"bar":93,"plus":43,"circle":32},
{"city":"Lanzhou","month":10,"bar":75,"plus":59,"circle":57},
{"city":"Xining","month":1,"bar":115,"plus":21,"circle":19},
{"city":"Xining","month":2,"bar":77,"plus":16,"circle":14},
{"city":"Xining","month":3,"bar":51,"plus":11,"circle":10},
{"city":"Xining","month":4,"bar":45,"plus":11,"circle":10},
{"city":"Xining","month":5,"bar":52,"plus":11,"circle":10},
{"city":"Xining","month":6,"bar":53,"plus":11,"circle":11},
{"city":"Xining","month":7,"bar":52,"plus":11,"circle":11},
{"city":"Xining","month":8,"bar":50,"plus":16,"circle":15},
{"city":"Xining","month":9,"bar":70,"plus":30,"circle":26},
{"city":"Xining","month":10,"bar":84,"plus":48,"circle":39},
{"city":"Wulumuqi","month":1,"bar":74,"plus":61,"circle":45},
{"city":"Wulumuqi","month":2,"bar":48,"plus":21,"circle":12},
{"city":"Wulumuqi","month":3,"bar":50,"plus":16,"circle":10},
{"city":"Wulumuqi","month":4,"bar":45,"plus":12,"circle":10},
{"city":"Wulumuqi","month":5,"bar":50,"plus":11,"circle":10},
{"city":"Wulumuqi","month":6,"bar":45,"plus":14,"circle":11},
{"city":"Wulumuqi","month":7,"bar":50,"plus":24,"circle":12},
{"city":"Wulumuqi","month":8,"bar":74,"plus":41,"circle":19},
{"city":"Wulumuqi","month":9,"bar":132,"plus":63,"circle":19},
{"city":"Wulumuqi","month":10,"bar":110,"plus":95,"circle":41},
{"city":"Fuzhou","month":1,"bar":43,"plus":35,"circle":34,"region":"Other"},
{"city":"Fuzhou","month":2,"bar":48,"plus":35,"circle":32},
{"city":"Fuzhou","month":3,"bar":30,"plus":24,"circle":17},
{"city":"Fuzhou","month":4,"bar":32,"plus":27,"circle":19},
{"city":"Fuzhou","month":5,"bar":22,"plus":14,"circle":12},
{"city":"Fuzhou","month":6,"bar":24,"plus":17,"circle":17},
{"city":"Fuzhou","month":7,"bar":29,"plus":21,"circle":17},
{"city":"Fuzhou","month":8,"bar":43,"plus":25,"circle":22},
{"city":"Fuzhou","month":9,"bar":45,"plus":34,"circle":32},
{"city":"Fuzhou","month":10,"bar":69,"plus":46,"circle":45},
{"city":"Haikou","month":1,"bar":25,"plus":17,"circle":16},
{"city":"Haikou","month":2,"bar":30,"plus":34,"circle":40},
{"city":"Haikou","month":3,"bar":22,"plus":17,"circle":17},
{"city":"Haikou","month":4,"bar":21,"plus":14,"circle":13},
{"city":"Haikou","month":5,"bar":10,"plus":6,"circle":5},
{"city":"Haikou","month":6,"bar":14,"plus":10,"circle":10},
{"city":"Haikou","month":7,"bar":40,"plus":24,"circle":21},
{"city":"Haikou","month":8,"bar":55,"plus":34,"circle":34},
{"city":"Haikou","month":9,"bar":35,"plus":21,"circle":19},
{"city":"Haikou","month":10,"bar":84,"plus":63,"circle":55},
{"city":"Nanning","month":1,"bar":59,"plus":51,"circle":42},
{"city":"Nanning","month":2,"bar":52,"plus":43,"circle":40},
{"city":"Nanning","month":3,"bar":40,"plus":30,"circle":23},
{"city":"Nanning","month":4,"bar":38,"plus":27,"circle":21},
{"city":"Nanning","month":5,"bar":29,"plus":19,"circle":11},
{"city":"Nanning","month":6,"bar":38,"plus":23,"circle":14},
{"city":"Nanning","month":7,"bar":53,"plus":40,"circle":29},
{"city":"Nanning","month":8,"bar":92,"plus":50,"circle":45},
{"city":"Nanning","month":9,"bar":82,"plus":59,"circle":46},
{"city":"Nanning","month":10,"bar":130,"plus":95,"circle":94},
{"city":"Kunming","month":1,"bar":53,"plus":64,"circle":65},
{"city":"Kunming","month":2,"bar":52,"plus":50,"circle":52},
{"city":"Kunming","month":3,"bar":29,"plus":17,"circle":16},
{"city":"Kunming","month":4,"bar":32,"plus":23,"circle":23},
{"city":"Kunming","month":5,"bar":23,"plus":11,"circle":11},
{"city":"Kunming","month":6,"bar":35,"plus":24,"circle":24},
{"city":"Kunming","month":7,"bar":45,"plus":34,"circle":34},
{"city":"Kunming","month":8,"bar":48,"plus":43,"circle":43},
{"city":"Kunming","month":9,"bar":45,"plus":37,"circle":42},
{"city":"Kunming","month":10,"bar":56,"plus":63,"circle":72},
{"city":"Guiyang","month":1,"bar":74,"plus":67,"circle":85},
{"city":"Guiyang","month":2,"bar":53,"plus":46,"circle":52},
{"city":"Guiyang","month":3,"bar":45,"plus":37,"circle":40},
{"city":"Guiyang","month":4,"bar":40,"plus":32,"circle":35},
{"city":"Guiyang","month":5,"bar":21,"plus":11,"circle":11},
{"city":"Guiyang","month":6,"bar":34,"plus":27,"circle":29},
{"city":"Guiyang","month":7,"bar":48,"plus":40,"circle":53},
{"city":"Guiyang","month":8,"bar":66,"plus":59,"circle":75},
{"city":"Guiyang","month":9,"bar":48,"plus":53,"circle":75},
{"city":"Guiyang","month":10,"bar":94,"plus":105,"circle":135},
{"city":"Lasa","month":1,"bar":27,"plus":8,"circle":6},
{"city":"Lasa","month":2,"bar":29,"plus":8,"circle":7},
{"city":"Lasa","month":3,"bar":33,"plus":8,"circle":7},
{"city":"Lasa","month":4,"bar":26,"plus":7,"circle":6},
{"city":"Lasa","month":5,"bar":19,"plus":7,"circle":6},
{"city":"Lasa","month":6,"bar":25,"plus":7,"circle":6},
{"city":"Lasa","month":7,"bar":23,"plus":7,"circle":6},
{"city":"Lasa","month":8,"bar":23,"plus":7,"circle":6},
{"city":"Lasa","month":9,"bar":34,"plus":8,"circle":7},
{"city":"Lasa","month":10,"bar":39,"plus":9,"circle":8}
]},
"facet": {"field": "city", "type": "nominal", "title": null,
  "header": {"labels": false, "title": null, "labelFontSize": 0, "labelPadding": 0, "labelExpr": "''"},
  "sort": ["Harbin","Shenyang","Changchun","Dalian","Chengde","Beijing",
  "Huhehaote","Tangshan","Langfang","Tianjin","Baoding","Cangzhou",
  "Shijiazhuang","Hengshui","Handan","Jinan","Qingdao","Lianyungang",
  "Qinhuangdao","Suqian","Xuzhou","Huai'an","Taizhou","Yangzhou",
  "Nanjing","Nantong","Suzhou","Wuxi","Shanghai","Huzhou",
  "Hangzhou","Jiaxing","Shaoxin","Zhoushan","Wenzhou","Jinhua",
  "Quzhou","Lishui","Guangzhou","Zhuhai","ShenZhen","Chongqing",
  "Chengdu","Taiyuan","Zhengzhou","Hefei","Wuhan","Nanchang",
  "Changsha","Xi'an","Yinchuan","Lanzhou","Xining","Wulumuqi",
  "Fuzhou","Haikou","Nanning","Kunming","Guiyang","Lasa"]},
"columns": 6,
"spacing": 0,
"spec": {
  "width": 178,
  "height": 153,
  "resolve": {"axis": {"y": "independent"}},
  "layer": [
    {"mark": {"type": "bar", "filled": false, "stroke": "#1fa07f", "strokeWidth": 2.5},
     "encoding": {
       "x": {"field": "month", "type": "ordinal",
             "scale": {"domain": [1,2,3,4,5,6,7,8,9,10], "paddingInner": 0, "paddingOuter": 0.933, "align": 0.75},
             "axis": {"title": null, "labels": false, "ticks": false, "domain": false, "grid": true, "values": [1,3,5,7,9], "bandPosition": 0.5, "gridColor": "black", "gridWidth": 2, "gridOpacity": 1, "gridDash": [12, 141], "gridDashOffset": 12}},
       "y": {"field": "bar", "type": "quantitative",
             "scale": {"domain": [0, 250], "nice": false},
             "axis": {"orient": "left", "title": null, "values": [50,150,250], "labelOverlap": false, "labelFontSize": 18, "labelFont": "Liberation Sans", "labelColor": "black", "labelPadding": 13, "ticks": false, "domain": false, "grid": true, "gridColor": "black", "gridWidth": 2, "gridOpacity": 1, "gridDash": [11, 1000]}}
     }},
    {"mark": {"type": "point", "shape": "circle", "filled": false, "stroke": "#a020f0", "strokeWidth": 2, "size": 110, "opacity": 1},
     "encoding": {"x": {"field": "month", "type": "ordinal"},
       "y": {"field": "circle", "type": "quantitative",
             "axis": {"orient": "left", "title": null, "values": [100,200], "labelOverlap": false, "labelFontSize": 18, "labelFont": "Liberation Sans", "labelColor": "black", "labelPadding": 13, "ticks": false, "domain": false, "grid": true, "gridColor": "black", "gridWidth": 2, "gridOpacity": 1, "gridDash": [11, 1000]}}}},
    {"mark": {"type": "point", "shape": "circle", "filled": true, "color": "#a020f0", "size": 8, "opacity": 1},
     "encoding": {"x": {"field": "month", "type": "ordinal"}, "y": {"field": "circle", "type": "quantitative", "axis": null}}},
    {"mark": {"type": "point", "shape": "M-1,0L1,0M0,-1L0,1", "filled": false, "stroke": "black", "strokeWidth": 2, "size": 100, "opacity": 1},
     "encoding": {"x": {"field": "month", "type": "ordinal"}, "y": {"field": "plus", "type": "quantitative", "axis": null}}},
    {"transform": [{"filter": "datum.month == 1"}],
     "mark": {"type": "text", "align": "left", "baseline": "alphabetic", "dx": -3, "fontSize": 20, "font": "Liberation Sans", "color": "#1a1a1a"},
     "encoding": {"x": {"field": "month", "type": "ordinal", "bandPosition": 0}, "y": {"datum": 211, "axis": null}, "text": {"field": "city"}}},
    {"transform": [{"filter": "isValid(datum.region)"}],
     "mark": {"type": "text", "align": "left", "baseline": "alphabetic", "dx": -5, "fontSize": 32, "fontWeight": "bold", "font": "Liberation Sans", "color": "black"},
     "encoding": {"x": {"field": "month", "type": "ordinal", "bandPosition": 0}, "y": {"datum": 160, "axis": null}, "text": {"field": "region"}}}
  ]
},
"config": {
  "view": {"stroke": "black", "strokeWidth": 2},
  "axis": {"labelOverlap": false},
  "header": {"labels": false, "labelPadding": 0, "titlePadding": 0},
  "headerFacet": {"labels": false, "labelPadding": 0, "labelFontSize": 0}
}
}
